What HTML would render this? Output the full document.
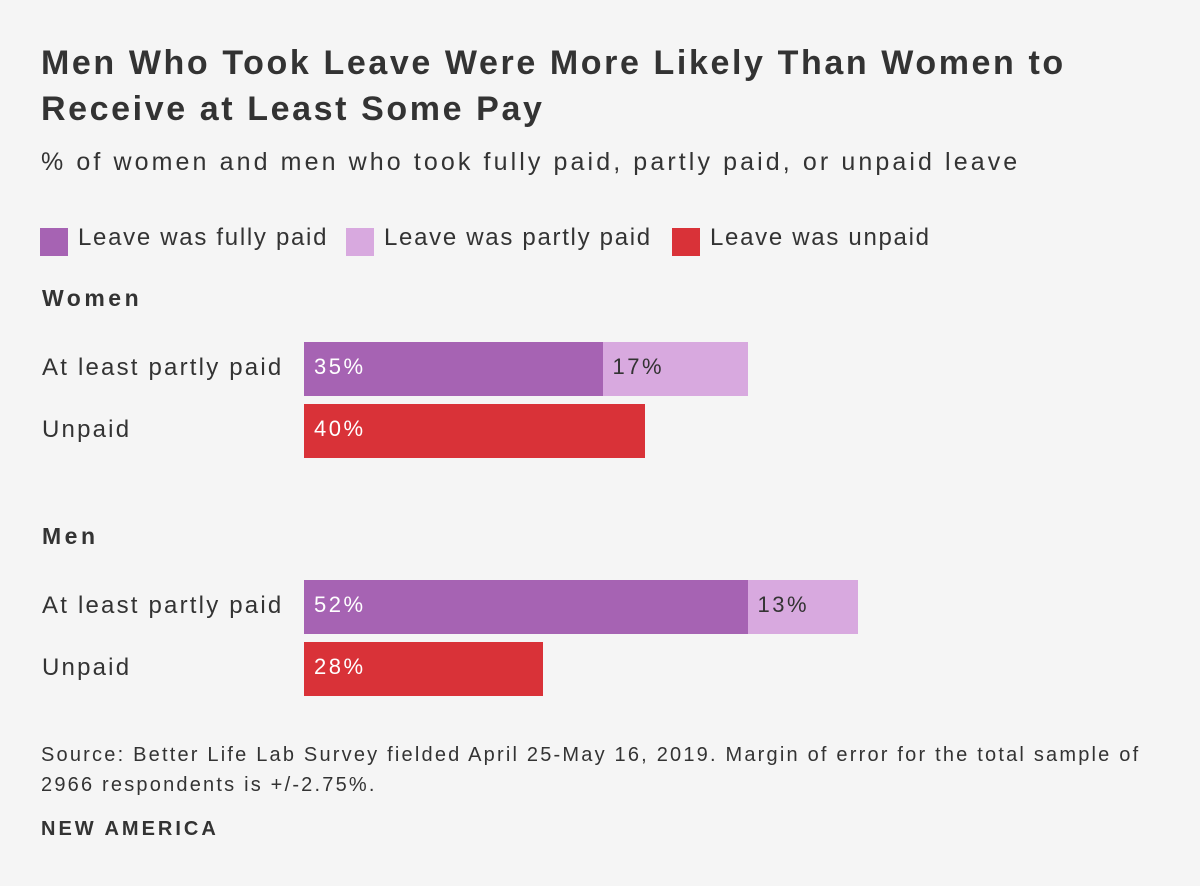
<!DOCTYPE html>
<html><head><meta charset="utf-8"><style>
body{margin:0;background:#f5f5f5;font-family:"Liberation Sans",sans-serif;color:#333;}
#c{position:relative;width:1200px;height:886px;overflow:hidden;}
.t{position:absolute;white-space:nowrap;}
</style></head><body>
<div id="c">
<div class="t" style="left:41px;top:40px;font-size:34px;font-weight:bold;line-height:46px;letter-spacing:2.6px;">Men Who Took Leave Were More Likely Than Women to<br>Receive at Least Some Pay</div>
<div class="t" style="left:41px;top:148px;font-size:25px;letter-spacing:3.1px;">% of women and men who took fully paid, partly paid, or unpaid leave</div>
<div>
<div class="t" style="left:40px;top:228px;width:28px;height:28px;background:#a663b3"></div>
<div class="t" style="left:78px;top:224px;font-size:24px;letter-spacing:1.7px;">Leave was fully paid</div>
<div class="t" style="left:346px;top:228px;width:28px;height:28px;background:#d8a9df"></div>
<div class="t" style="left:384px;top:224px;font-size:24px;letter-spacing:1.7px;">Leave was partly paid</div>
<div class="t" style="left:672px;top:228px;width:28px;height:28px;background:#d93238"></div>
<div class="t" style="left:710px;top:224px;font-size:24px;letter-spacing:1.7px;">Leave was unpaid</div>
</div>
<div id="plot"></div>
<div class="t" style="left:41px;top:740px;font-size:20px;line-height:30px;letter-spacing:2.2px;">Source: Better Life Lab Survey fielded April 25-May 16, 2019. Margin of error for the total sample of<br>2966 respondents is +/-2.75%.</div>
<div class="t" style="left:41px;top:818px;font-size:20px;font-weight:bold;letter-spacing:3px;">NEW AMERICA</div>
</div>
<script>
const groups=["Women","Men"];
const rowLabels=["At least partly paid","Unpaid"];
const fullyPaid=[35,52];
const partlyPaid=[17,13];
const unpaid=[40,28];
const x0=304, pxPer=8.53;
const colors={fully:"#a663b3",partly:"#d8a9df",unpaid:"#d93238"};
const groupTop=[285,523];
const plot=document.getElementById('plot');
function xs(v){return v*pxPer;}
function mk(css,text){const d=document.createElement('div');d.className='t';d.style.cssText=css;if(text!==undefined)d.textContent=text;plot.appendChild(d);return d;}
groups.forEach((g,i)=>{
  const top=groupTop[i];
  let h=mk(`left:42px;top:${top}px;font-size:23px;font-weight:bold;letter-spacing:3.5px;`,g);
  
  
  const r1=top+57, r2=top+119;
  [[r1,rowLabels[0]],[r2,rowLabels[1]]].forEach(([y,l],k)=>{
    const e=mk(`left:42px;top:${y+12}px;font-size:24px;letter-spacing:2.2px;`,l);
    
    
  });
  const segs=[[r1,0,fullyPaid[i],colors.fully,'#fff','fully-paid'],[r1,fullyPaid[i],partlyPaid[i],colors.partly,'#333','partly-paid'],[r2,0,unpaid[i],colors.unpaid,'#fff','unpaid']];
  segs.forEach(([y,s,v,c,tc,n])=>{
    const b=mk(`left:${x0+xs(s)}px;top:${y}px;width:${xs(v)}px;height:54px;background:${c};`);
    
    
    const lb=mk(`left:${x0+xs(s)+10}px;top:${y+12}px;font-size:22px;color:${tc};letter-spacing:2.5px;`,v+'%');
    
    
  });
});
</script>
</body></html>
